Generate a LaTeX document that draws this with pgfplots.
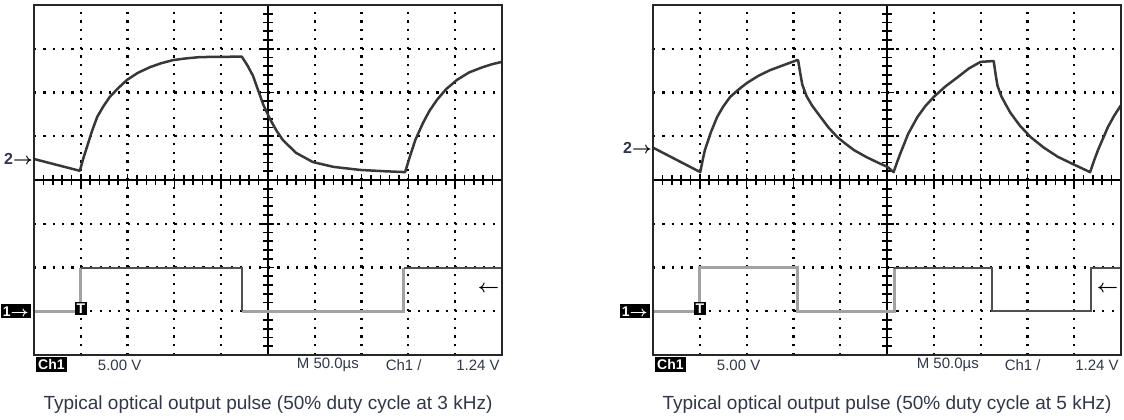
\documentclass[border=0pt]{standalone}
\usepackage{amsmath}
\usepackage{pgfplots}
\pgfplotsset{compat=1.18}
\usepackage{fontspec}
\setmainfont{Liberation Sans}

\definecolor{tracecol}{HTML}{383838}
\definecolor{sqlight}{HTML}{A2A2A2}
\definecolor{sqdark}{HTML}{505050}
\definecolor{scopetxt}{HTML}{30374A}

\pgfplotsset{
  scopeaxis/.style={
    scale only axis, width=234pt, height=175pt,
    xmin=-5, xmax=5, ymin=-4, ymax=4,
    axis lines=center, axis line style={-, black, line width=1.1pt},
    xtick={-5,...,5}, ytick={-4,...,4},
    minor x tick num=4, minor y tick num=4,
    xticklabels={}, yticklabels={},
    tick align=center, major tick length=6.5pt, minor tick length=5pt,
    every tick/.style={black, line width=0.8pt},
    grid=major,
    x grid style={black, line width=1.1pt, dash pattern=on 1.1pt off 3.275pt},
    y grid style={black, line width=1.1pt, dash pattern=on 1.1pt off 3.58pt},
    unbounded coords=jump, clip=false,
  },
}
\tikzset{
  opticaltrace/.style={tracecol, line width=1.25pt, line join=round},
  sqgray/.style={sqlight, line width=1.5pt},
  sqblack/.style={sqdark, line width=1pt},
  lbl/.style={font=\fontsize{7.5}{8}\selectfont, text=scopetxt, inner sep=0pt},
  captxt/.style={font=\fontsize{9.5}{11}\selectfont, text=scopetxt, inner sep=0pt},
  boxlbl/.style={fill=black, text=white, font=\fontsize{7}{8}\selectfont\bfseries, inner sep=1pt},
}

\begin{document}
\begin{tikzpicture}
\useasboundingbox (0,0) rectangle (562pt,209.5pt);

% left scope: 3 kHz
\begin{axis}[scopeaxis, at={(17pt,32pt)}, anchor=south west]
\addplot[sqgray] coordinates {(-5,-3) (-4,-3) (-4,-2) (nan,nan) (-0.56,-3) (2.9,-3) (2.9,-2)};
\addplot[sqblack] coordinates {(-4,-2) (-0.56,-2) (-0.56,-3) (nan,nan) (2.9,-2) (5,-2)};
\addplot[opticaltrace] coordinates {
  (-5,0.48) (-4.02,0.21) (-3.95,0.48) (-3.87,0.75) (-3.76,1.12) (-3.65,1.44) (-3.52,1.68)
  (-3.38,1.90) (-3.2,2.10) (-3.01,2.29) (-2.78,2.45) (-2.52,2.58) (-2.28,2.67) (-2.03,2.74)
  (-1.75,2.78) (-1.45,2.81) (-0.56,2.82) (-0.44,2.62) (-0.32,2.38) (-0.2,2.02) (-0.1,1.72)
  (0.04,1.40) (0.18,1.13) (0.32,0.91) (0.6,0.62) (0.96,0.41) (1.4,0.30) (1.97,0.23)
  (2.5,0.20) (2.93,0.18) (3.03,0.53) (3.15,0.92) (3.31,1.30) (3.45,1.58) (3.61,1.83)
  (3.8,2.07) (4.04,2.29) (4.3,2.46) (4.59,2.58) (4.8,2.65) (5,2.70)};
\draw[line width=1.3pt, black!85] (rel axis cs:0,0) rectangle (rel axis cs:1,1);
\node[anchor=east, font=\fontsize{8}{9}\selectfont\bfseries, inner sep=0pt] at (axis cs:-5.02,0.48) {\textcolor{scopetxt}{2}$\boldsymbol{\rightarrow}$};
\node[boxlbl, anchor=east] at (axis cs:-5.06,-3) {1$\boldsymbol{\rightarrow}$};
\node[boxlbl, font=\fontsize{7}{7}\selectfont\bfseries, inner sep=0.9pt, anchor=south] at (axis cs:-4,-3.1) {T};
\node[anchor=east, inner sep=0pt, font=\fontsize{9}{9}\selectfont] at (axis cs:4.95,-2.5) {$\boldsymbol{\leftarrow}$};
\node[boxlbl, anchor=north west, inner sep=1.2pt] at (axis cs:-4.97,-4.04) {Ch1};
\node[lbl] at (axis cs:-3.17,-4.23) {5.00 V};
\node[lbl] at (axis cs:1.28,-4.23) {M 50.0µs};
\node[lbl] at (axis cs:2.9,-4.23) {Ch1 /};
\node[lbl, anchor=east] at (axis cs:4.96,-4.23) {1.24 V};
\node[captxt] at (axis cs:0,-5.14) {Typical optical output pulse (50\% duty cycle at 3 kHz)};
\end{axis}

% right scope: 5 kHz
\begin{axis}[scopeaxis, at={(326.5pt,32pt)}, anchor=south west]
\addplot[sqgray] coordinates {(-5,-3) (-4,-3) (-4,-2) (-1.92,-2) (-1.92,-3) (0.16,-3) (0.16,-2)};
\addplot[sqblack] coordinates {(0.16,-2) (2.24,-2) (2.24,-3) (4.36,-3) (4.36,-2) (5,-2)};
\addplot[opticaltrace] coordinates {
  (-5,0.74) (-3.99,0.18) (-3.94,0.45) (-3.89,0.69) (-3.76,1.10) (-3.63,1.44) (-3.5,1.68)
  (-3.35,1.90) (-3.17,2.07) (-2.99,2.22) (-2.75,2.38) (-2.5,2.51) (-2.2,2.63) (-1.92,2.74)
  (-1.9,2.74) (-1.86,2.48) (-1.81,2.18) (-1.72,1.92) (-1.6,1.70) (-1.42,1.44) (-1.25,1.20)
  (-1.06,0.98) (-0.9,0.84) (-0.7,0.68) (-0.45,0.53) (-0.2,0.40) (0.01,0.30) (0.14,0.18)
  (0.22,0.42) (0.29,0.62) (0.45,1.05) (0.65,1.44) (0.82,1.69) (1.0,1.90) (1.25,2.14)
  (1.51,2.35) (1.75,2.55) (2.0,2.70) (2.28,2.72) (2.32,2.42) (2.36,2.16) (2.44,1.92)
  (2.54,1.72) (2.64,1.53) (2.85,1.23) (3.07,0.98) (3.35,0.74) (3.65,0.53) (4.0,0.35)
  (4.34,0.18) (4.42,0.43) (4.51,0.69) (4.62,0.96) (4.72,1.21) (4.86,1.48) (5,1.71)};
\draw[line width=1.3pt, black!85] (rel axis cs:0,0) rectangle (rel axis cs:1,1);
\node[anchor=east, font=\fontsize{8}{9}\selectfont\bfseries, inner sep=0pt] at (axis cs:-5.02,0.74) {\textcolor{scopetxt}{2}$\boldsymbol{\rightarrow}$};
\node[boxlbl, anchor=east] at (axis cs:-5.06,-3) {1$\boldsymbol{\rightarrow}$};
\node[boxlbl, font=\fontsize{7}{7}\selectfont\bfseries, inner sep=0.9pt, anchor=south] at (axis cs:-4,-3.1) {T};
\node[anchor=east, inner sep=0pt, font=\fontsize{9}{9}\selectfont] at (axis cs:4.95,-2.5) {$\boldsymbol{\leftarrow}$};
\node[boxlbl, anchor=north west, inner sep=1.2pt] at (axis cs:-4.97,-4.04) {Ch1};
\node[lbl] at (axis cs:-3.17,-4.23) {5.00 V};
\node[lbl] at (axis cs:1.3,-4.23) {M 50.0µs};
\node[lbl] at (axis cs:2.9,-4.23) {Ch1 /};
\node[lbl, anchor=east] at (axis cs:4.96,-4.23) {1.24 V};
\node[captxt] at (axis cs:0,-5.14) {Typical optical output pulse (50\% duty cycle at 5 kHz)};
\end{axis}
\end{tikzpicture}
\end{document}
